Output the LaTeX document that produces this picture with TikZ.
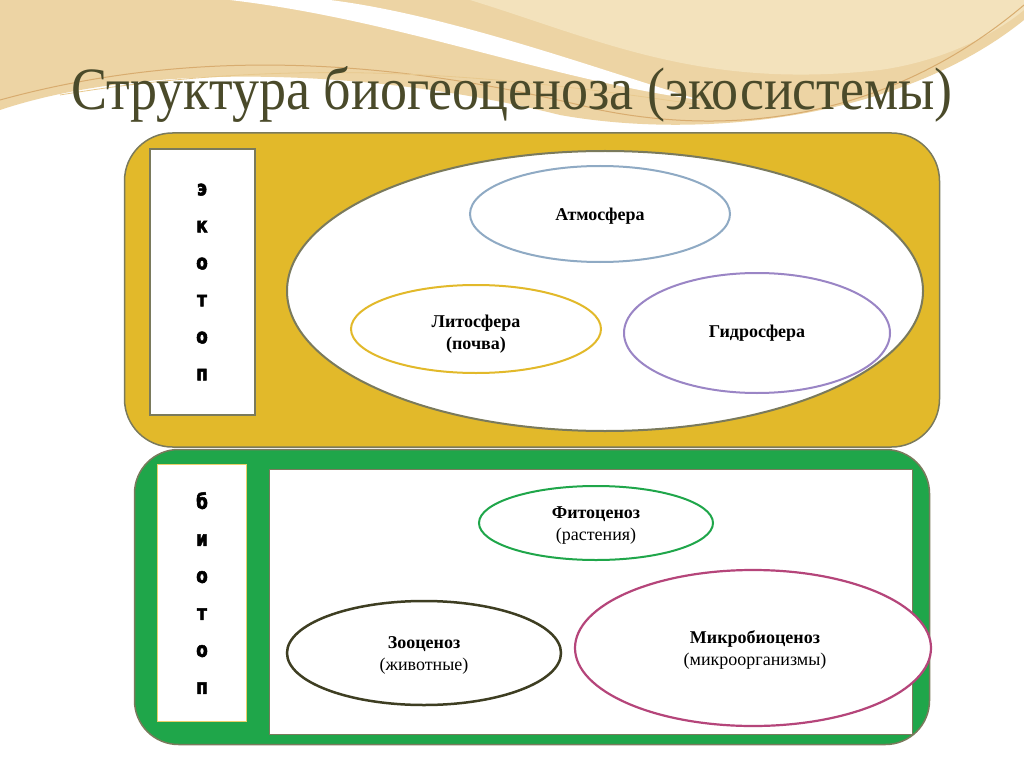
\documentclass[tikz,border=0pt]{standalone}
\usepackage{fontspec}
\setmainfont{Liberation Serif}
\newfontfamily\titlefont[FakeStretch=0.9]{Liberation Serif}
\newfontfamily\heavy[FakeStretch=0.8,FakeBold=2.5]{DejaVu Sans}
\definecolor{gold}{HTML}{E2B92A}
\definecolor{grn}{HTML}{1FA64A}
\definecolor{edge}{HTML}{7A7A5C}
\definecolor{tan}{HTML}{E8C98E}
\definecolor{tanl}{HTML}{F3E2BC}
\definecolor{ttl}{HTML}{4A4A2A}
\definecolor{atmc}{HTML}{8FAAC4}
\definecolor{gidc}{HTML}{9A85C5}
\definecolor{micc}{HTML}{B5457A}
\definecolor{zooc}{HTML}{3E3E22}
\begin{document}
\begin{tikzpicture}[x=1pt,y=-1pt,
  lbl/.style={font=\bfseries\fontsize{18}{22}\selectfont,align=center,text=black},
  vert/.style={font=\heavy\bfseries\fontsize{21}{37}\selectfont,align=center}]
\useasboundingbox (0,0) rectangle (1024,767);
\fill[white] (0,0) rectangle (1024,767);
% decoration
\fill[tan!80] (0,0) -- (1024,0) -- (1024,20) .. controls (900,120) and (700,140) .. (560,115) .. controls (380,70) and (150,60) .. (0,110) -- cycle;
\fill[tanl] (470,0) .. controls (600,40) and (700,90) .. (880,70) .. controls (950,60) and (1000,30) .. (1024,10) -- (1024,0) -- cycle;
\fill[white] (230,0) .. controls (400,20) and (550,80) .. (700,100) .. controls (600,70) and (450,15) .. (330,0) -- cycle;
\draw[tan!60!brown,line width=1pt] (0,100) .. controls (200,45) and (400,60) .. (600,110) .. controls (750,140) and (900,110) .. (1024,5);
\draw[tan,line width=0.8pt] (60,95) .. controls (300,55) and (500,75) .. (700,105);
\node[font=\titlefont\fontsize{60}{66}\selectfont,text=ttl] (title) at (512,95) {Структура биогеоценоза (экосистемы)};
% top box
\node[draw=edge,line width=1.5pt,fill=gold,rounded corners=48pt,minimum width=815pt,minimum height=314pt] (eco) at (532,290) {};
\node[draw=edge,line width=2pt,fill=white,minimum width=105pt,minimum height=265pt,vert] (ecot) at (202,282) {э\\к\\о\\т\\о\\п};
\draw[edge,line width=2pt,fill=white] (605,291) ellipse [x radius=318,y radius=140];
\draw[atmc,line width=2pt,fill=white] (600,214) ellipse [x radius=130,y radius=48];
\node[lbl] (atm) at (600,216) {Атмосфера};
\draw[gold,line width=2pt,fill=white] (476,329) ellipse [x radius=125,y radius=44];
\node[lbl] (lit) at (476,334) {Литосфера\\(почва)};
\draw[gidc,line width=2pt,fill=white] (757,333) ellipse [x radius=133,y radius=60];
\node[lbl] (gid) at (757,333) {Гидросфера};
% bottom box
\node[draw=edge,line width=1.5pt,fill=grn,rounded corners=44pt,minimum width=795pt,minimum height=295pt] (bio) at (532,597) {};
\node[draw=gold!70,line width=1.5pt,fill=white,minimum width=89pt,minimum height=257pt,vert] (biot) at (202,593) {б\\и\\о\\т\\о\\п};
\node[draw=edge,line width=1.5pt,fill=white,minimum width=643pt,minimum height=265pt] (inner) at (591,602) {};
\draw[grn,line width=2pt,fill=white] (596,523) ellipse [x radius=117,y radius=37];
\node[lbl] (fit) at (596,526) {Фитоценоз\\\mdseries(растения)};
\draw[zooc,line width=2.5pt,fill=white] (424,653) ellipse [x radius=137,y radius=52];
\node[lbl] (zoo) at (424,655) {Зооценоз\\\mdseries(животные)};
\draw[micc,line width=2.2pt,fill=white] (753,648) ellipse [x radius=178,y radius=78];
\node[lbl] (mic) at (755,650) {Микробиоценоз\\\mdseries(микроорганизмы)};
\end{tikzpicture}
\end{document}
